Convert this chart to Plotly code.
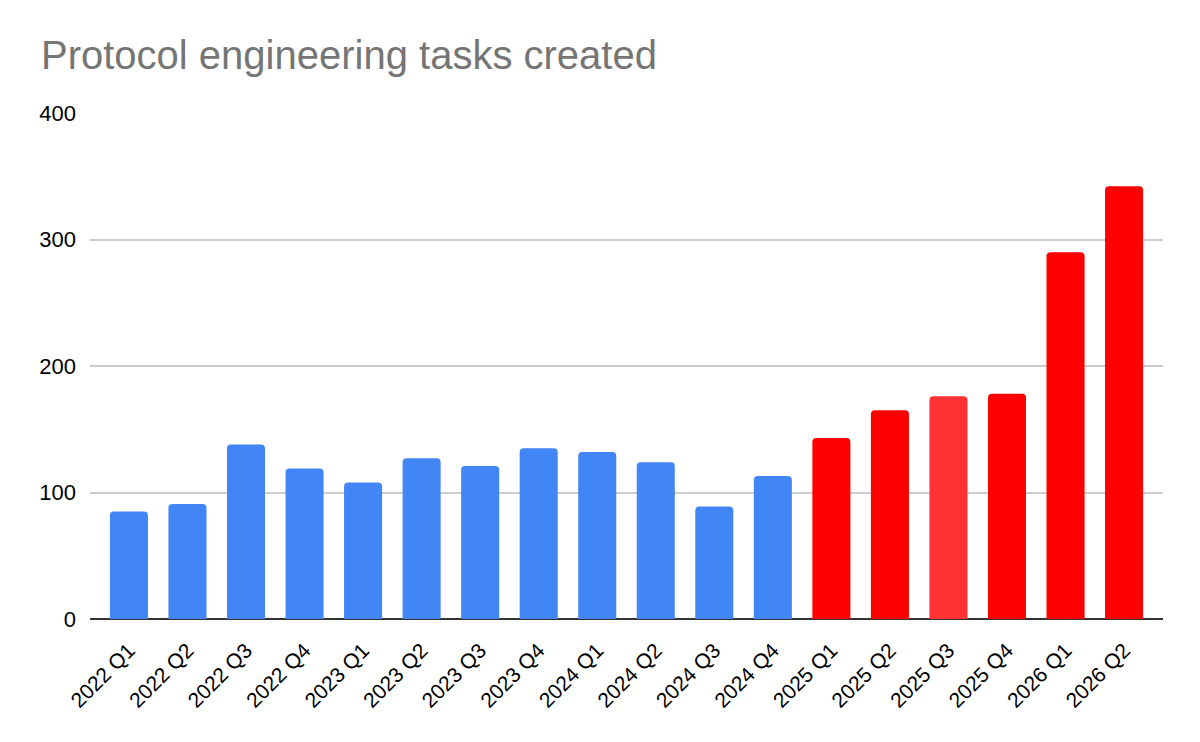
import plotly.graph_objects as go

quarters = ["2022 Q1", "2022 Q2", "2022 Q3", "2022 Q4",
            "2023 Q1", "2023 Q2", "2023 Q3", "2023 Q4",
            "2024 Q1", "2024 Q2", "2024 Q3", "2024 Q4",
            "2025 Q1", "2025 Q2", "2025 Q3", "2025 Q4",
            "2026 Q1", "2026 Q2"]
tasks = [85, 91, 138, 119, 108, 127, 121, 135, 132, 124, 89, 113,
         143, 165, 176, 178, 290, 342]
bar_colors = ["#4285F4"] * 12 + ["#FF0000", "#FF0000", "#FF3333", "#FF0000", "#FF0000", "#FF0000"]
y_ticks = [0, 100, 200, 300, 400]

fig = go.Figure()
fig.add_trace(go.Bar(
    x=list(range(len(quarters))),
    y=tasks,
    marker=dict(color=bar_colors, line=dict(width=0), cornerradius=4),
    width=0.65,
    hoverinfo="y",
))

fig.update_layout(
    width=1200, height=742,
    paper_bgcolor="white", plot_bgcolor="white",
    margin=dict(l=90, r=37, t=113, b=123, pad=0),
    title=dict(text="Protocol engineering tasks created",
               x=41 / 1200, xanchor="left", xref="container",
               y=1 - 55 / 742, yanchor="middle", yref="container",
               font=dict(family="Liberation Sans, Arial, sans-serif", size=40, color="#757575")),
    font=dict(family="Liberation Sans, Arial, sans-serif", size=22, color="#000000"),
    showlegend=False,
    xaxis=dict(
        tickmode="array",
        tickvals=list(range(len(quarters))),
        ticktext=quarters,
        tickangle=-45,
        range=[-0.665, len(quarters) - 1 + 0.665],
        showgrid=False,
        showline=False,
        zeroline=False,
        ticks="",
        ticklabelstandoff=14,
        tickfont=dict(size=21, color="#000000"),
    ),
    yaxis=dict(
        range=[0, 400],
        tickvals=y_ticks,
        showgrid=True,
        gridcolor="#CCCCCC",
        gridwidth=1.5,
        zeroline=True,
        zerolinecolor="#333333",
        zerolinewidth=2,
        showline=False,
        ticks="",
        ticklabelstandoff=13,
        tickfont=dict(size=22, color="#000000"),
    ),
)

fig.write_html("out.html")
